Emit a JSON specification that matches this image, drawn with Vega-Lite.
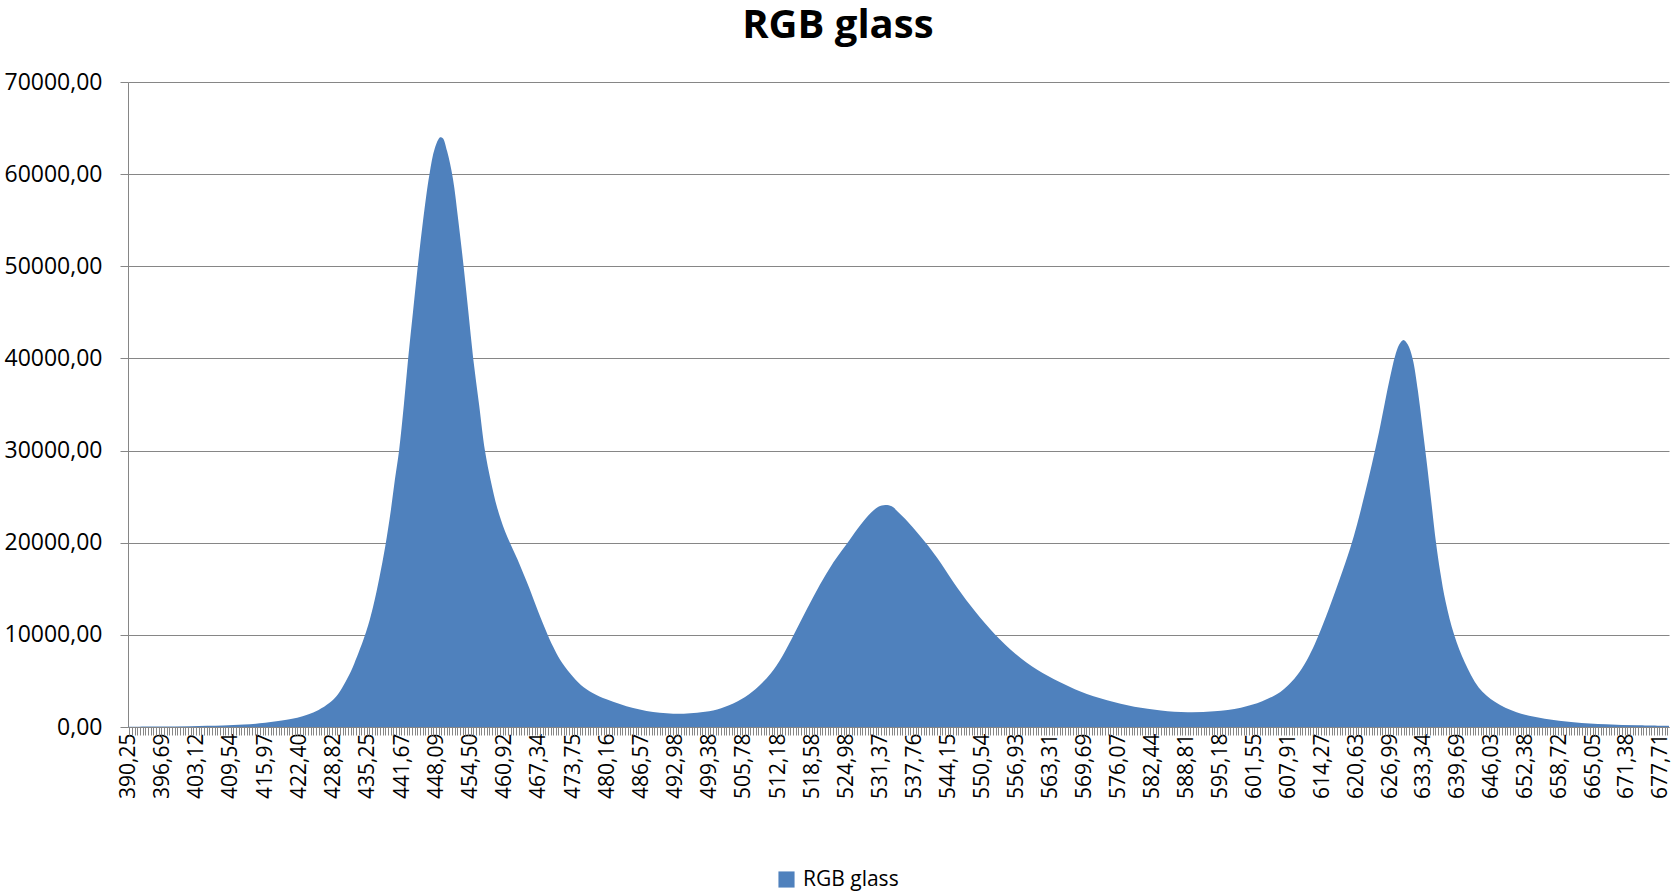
{
  "$schema": "https://vega.github.io/schema/vega-lite/v6.json",
  "autosize": {"type": "none"},
  "width": 1541,
  "height": 645,
  "padding": {"left": 128, "top": 82, "right": 2, "bottom": 168},
  "background": "white",
  "title": {"text": "RGB glass", "font": "Open Sans", "fontSize": 40, "fontWeight": "bold", "color": "#000000", "anchor": "middle", "frame": "bounds", "offset": 25},
  "config": {
    "view": {"stroke": null},
    "axis": {"labelFont": "Open Sans", "labelColor": "#000000", "domainColor": "#868686", "tickColor": "#868686", "gridColor": "#868686", "titleFont": "Open Sans"}
  },
  "data": {"values": [
    {"w": 390.25, "v": 30}, {"w": 396, "v": 50}, {"w": 402, "v": 90}, {"w": 408, "v": 160}, {"w": 412, "v": 260},
    {"w": 416, "v": 450}, {"w": 420, "v": 780}, {"w": 422, "v": 1000}, {"w": 424, "v": 1350}, {"w": 426, "v": 1850},
    {"w": 428, "v": 2600}, {"w": 429.3, "v": 3300}, {"w": 430.45, "v": 4300}, {"w": 431.6, "v": 5500}, {"w": 432.7, "v": 6900},
    {"w": 434.9, "v": 10300}, {"w": 436.2, "v": 13000}, {"w": 437.4, "v": 16200},
    {"w": 438.5, "v": 19600}, {"w": 439.5, "v": 23300}, {"w": 440.3, "v": 26800}, {"w": 441.1, "v": 30000}, {"w": 442.0, "v": 35000}, {"w": 442.8, "v": 40000},
    {"w": 443.7, "v": 45000}, {"w": 444.6, "v": 50000}, {"w": 445.6, "v": 55000}, {"w": 446.8, "v": 60000}, {"w": 447.8, "v": 62800},
    {"w": 448.8, "v": 64000}, {"w": 449.3, "v": 63900}, {"w": 450.1, "v": 62500}, {"w": 451.2, "v": 59500}, {"w": 452.2, "v": 55000},
    {"w": 453.2, "v": 50000}, {"w": 454.1, "v": 45000}, {"w": 455.0, "v": 40000}, {"w": 456.1, "v": 35000}, {"w": 457.2, "v": 30000},
    {"w": 458.3, "v": 26700}, {"w": 459.5, "v": 23800}, {"w": 461.0, "v": 21200}, {"w": 463.3, "v": 18200}, {"w": 465.5, "v": 15100},
    {"w": 467.2, "v": 12500}, {"w": 468.9, "v": 10100}, {"w": 470.0, "v": 8700}, {"w": 471.3, "v": 7300}, {"w": 473.2, "v": 5800},
    {"w": 475.2, "v": 4560}, {"w": 477.4, "v": 3700}, {"w": 480, "v": 3000}, {"w": 482.5, "v": 2500}, {"w": 485, "v": 2050},
    {"w": 487.5, "v": 1750}, {"w": 490, "v": 1550}, {"w": 492.5, "v": 1450}, {"w": 494.5, "v": 1450}, {"w": 497, "v": 1550},
    {"w": 500, "v": 1780}, {"w": 503, "v": 2350}, {"w": 506, "v": 3250}, {"w": 508.6, "v": 4450}, {"w": 510.8, "v": 5800},
    {"w": 512.9, "v": 7600}, {"w": 515.2, "v": 10100}, {"w": 517.6, "v": 12800}, {"w": 520, "v": 15400}, {"w": 522.6, "v": 17900},
    {"w": 525.6, "v": 20300}, {"w": 527.6, "v": 21900}, {"w": 529.7, "v": 23300}, {"w": 531.0, "v": 23900}, {"w": 532.3, "v": 24100},
    {"w": 533.5, "v": 23950}, {"w": 534.6, "v": 23400}, {"w": 536, "v": 22600}, {"w": 538, "v": 21300}, {"w": 540.3, "v": 19700},
    {"w": 542.7, "v": 17800}, {"w": 545.8, "v": 15100}, {"w": 549.2, "v": 12500}, {"w": 552.8, "v": 10100}, {"w": 556.8, "v": 7900},
    {"w": 560.8, "v": 6200}, {"w": 564.9, "v": 4900}, {"w": 568.9, "v": 3850}, {"w": 573.9, "v": 2900}, {"w": 579, "v": 2200},
    {"w": 584, "v": 1800}, {"w": 589, "v": 1600}, {"w": 594, "v": 1700}, {"w": 599, "v": 2100}, {"w": 603, "v": 2800},
    {"w": 606.4, "v": 3800}, {"w": 608.5, "v": 4900}, {"w": 610.5, "v": 6400}, {"w": 612.2, "v": 8200}, {"w": 613.45, "v": 9800}, {"w": 615.5, "v": 12800},
    {"w": 617.5, "v": 16000}, {"w": 619.5, "v": 19400}, {"w": 620.8, "v": 22000}, {"w": 622.2, "v": 25200}, {"w": 623.6, "v": 28600},
    {"w": 624.9, "v": 32000}, {"w": 626.0, "v": 35200}, {"w": 627.0, "v": 38000}, {"w": 627.9, "v": 40200}, {"w": 628.7, "v": 41500},
    {"w": 629.5, "v": 42000}, {"w": 630.3, "v": 41500}, {"w": 631.2, "v": 40000}, {"w": 632.2, "v": 36500}, {"w": 633.0, "v": 32800},
    {"w": 633.8, "v": 29000}, {"w": 634.7, "v": 24500}, {"w": 635.6, "v": 20000}, {"w": 636.4, "v": 16800}, {"w": 637.4, "v": 13600},
    {"w": 639.0, "v": 10000}, {"w": 641.0, "v": 7000}, {"w": 643.6, "v": 4300}, {"w": 646.7, "v": 2700}, {"w": 650.7, "v": 1600},
    {"w": 656.0, "v": 900}, {"w": 661.4, "v": 520}, {"w": 667.5, "v": 300}, {"w": 673.5, "v": 180}, {"w": 679.3, "v": 120}
  ]},
  "resolve": {"axis": {"x": "independent"}},
  "layer": [
    {
      "mark": {"type": "area", "interpolate": "catmull-rom", "clip": true},
      "encoding": {
        "x": {"field": "w", "type": "quantitative", "scale": {"domain": [390.25, 679.3], "nice": false, "zero": false},
          "axis": {"orient": "bottom", "title": null, "values": [390.25, 396.69, 403.12, 409.54, 415.97, 422.40, 428.82, 435.25, 441.67, 448.09, 454.50, 460.92, 467.34, 473.75, 480.16, 486.57, 492.98, 499.38, 505.78, 512.18, 518.58, 524.98, 531.37, 537.76, 544.15, 550.54, 556.93, 563.31, 569.69, 576.07, 582.44, 588.81, 595.18, 601.55, 607.91, 614.27, 620.63, 626.99, 633.34, 639.69, 646.03, 652.38, 658.72, 665.05, 671.38, 677.71],
            "labelExpr": "replace(format(datum.value, '.2f'), '.', ',')", "labelAngle": -90, "labelFontSize": 21, "labelPadding": 6, "tickSize": 8, "ticks": false, "grid": false, "domain": true, "labelOverlap": false, "labelFlush": false, "labelBound": false}},
        "y": {"field": "v", "type": "quantitative", "scale": {"domain": [0, 70000], "nice": false},
          "axis": {"title": null, "values": [0, 10000, 20000, 30000, 40000, 50000, 60000, 70000], "labelExpr": "replace(format(datum.value, '.2f'), '.', ',')", "labelFontSize": 23, "labelPadding": 18, "tickSize": 8, "grid": true, "gridWidth": 1.2, "domain": true, "labelFlush": false}},
        "color": {"datum": "RGB glass", "type": "nominal", "scale": {"range": ["#4F81BD"]},
          "legend": {"orient": "none", "legendX": 648, "legendY": 787, "title": null, "symbolType": "square", "symbolSize": 260, "symbolStrokeWidth": 0, "labelFont": "Open Sans", "labelFontSize": 21, "labelColor": "#000000", "labelOffset": 6}}
      }
    },
    {
      "mark": {"type": "point", "opacity": 0},
      "encoding": {
        "x": {"field": "w", "type": "quantitative",
          "axis": {"orient": "bottom", "title": null, "tickCount": 580, "labels": false, "domain": false, "grid": false, "ticks": true, "tickSize": 8, "tickWidth": 1}},
        "y": {"field": "v", "type": "quantitative"}
      }
    }
  ]
}
